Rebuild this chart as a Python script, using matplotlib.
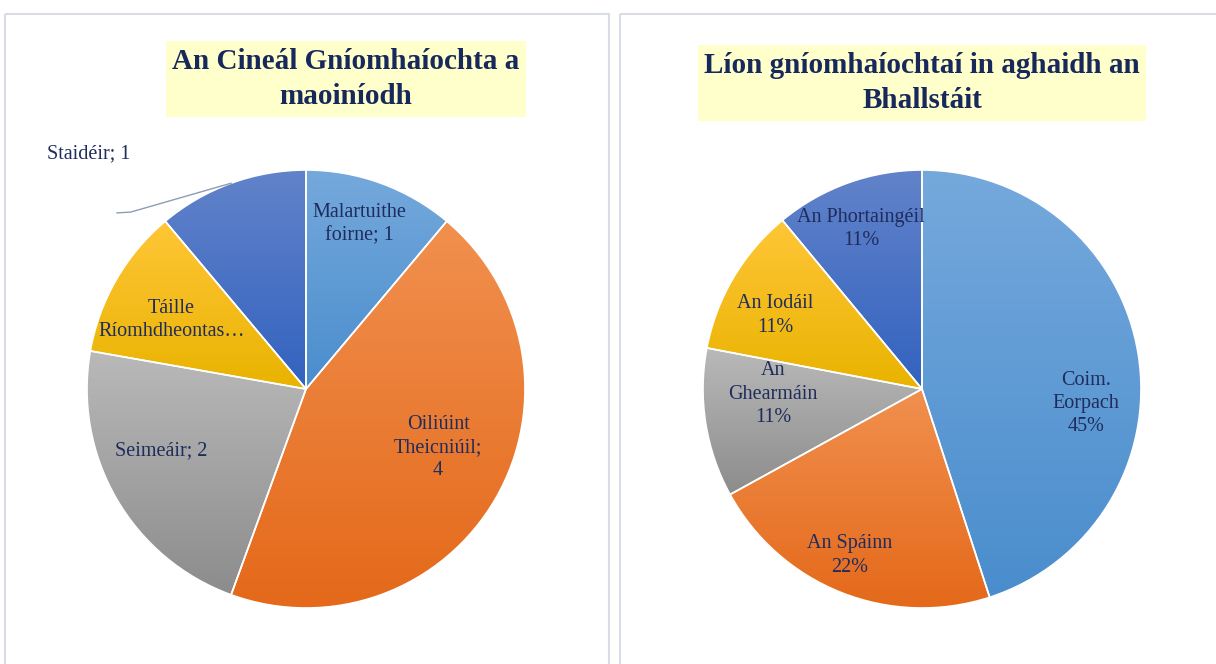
"""
Two Excel-style pie charts: type of funded activity, and number of activities per member state.
"""
import matplotlib
matplotlib.use("Agg")
import matplotlib.pyplot as plt
import numpy as np
from matplotlib.colors import LinearSegmentedColormap
from matplotlib.patches import Rectangle

plt.rcParams.update({
    "font.family": ["Liberation Serif", "DejaVu Serif"],
})

# ── data ────────────────────────────────────────────────────────────────────
left_title = "An Cineál Gníomhaíochta a\nmaoiníodh"
left_names = ["Malartuithe\nfoirne", "Oiliúint\nTheicniúil", "Seimeáir", "Táille\nRíomhdheontas…", "Staidéir"]
left_counts = [1, 4, 2, 1, 1]

right_title = "Líon gníomhaíochtaí in aghaidh an\nBhallstáit"
right_names = ["Coim.\nEorpach", "An Spáinn", "An\nGhearmáin", "An Iodáil", "An Phortaingéil"]
right_pct = [45, 22, 11, 11, 11]

# ── styling ────────────────────────────────────────────────────────────────
# (top colour, bottom colour) of each slice's vertical gradient
GRAD = {
    "lblue": ("#75a9dc", "#4a8dcd"),
    "orange": ("#f1904f", "#e4691a"),
    "gray": ("#b9b9b9", "#8c8c8c"),
    "yellow": ("#ffc637", "#e9b300"),
    "dblue": ("#6283ca", "#3262bf"),
}
SLICE_COLORS = ["lblue", "orange", "gray", "yellow", "dblue"]
TEXT = "#1f2c5c"
TITLE = "#17285a"
BORDER = "#d8dde5"
TITLE_BG = "#ffffcc"
LABEL_FS = 14.5

W, H = 1216, 664
fig = plt.figure(figsize=(W / 100, H / 100), dpi=100)
fig.patch.set_facecolor("white")

bg = fig.add_axes([0, 0, 1, 1], zorder=0)
bg.set_xlim(0, W)
bg.set_ylim(H, 0)
bg.axis("off")

# panel frames
for x0, x1 in [(5, 609), (620, 1230)]:
    bg.add_patch(Rectangle((x0, 14), x1 - x0, 680, fill=False, ec=BORDER, lw=1.5))

# titles
bg.text(346, 79, left_title, ha="center", va="center", fontsize=21, fontweight="bold",
        color=TITLE, linespacing=1.4,
        bbox=dict(boxstyle="square,pad=0.22", fc=TITLE_BG, ec="none"))
bg.text(922, 83, right_title, ha="center", va="center", fontsize=21, fontweight="bold",
        color=TITLE, linespacing=1.4,
        bbox=dict(boxstyle="square,pad=0.22", fc=TITLE_BG, ec="none"))

R_PX = 219
PAD = 1.06


def pie_axes(cx, cy):
    s = R_PX * PAD
    ax = fig.add_axes([(cx - s) / W, (H - cy - s) / H, 2 * s / W, 2 * s / H], zorder=1)
    ax.patch.set_alpha(0)
    return ax


def draw_pie(ax, values, labels, label_pos):
    wedges, _ = ax.pie(values, startangle=90, counterclock=False, radius=1,
                       wedgeprops=dict(lw=1.2, ec="white"))
    grad = np.linspace(0, 1, 256).reshape(-1, 1)
    for w, key in zip(wedges, SLICE_COLORS):
        top, bot = GRAD[key]
        cmap = LinearSegmentedColormap.from_list(key, [bot, top])
        ext = w.get_path().get_extents()
        im = ax.imshow(grad, extent=(ext.x0, ext.x1, ext.y0, ext.y1), origin="lower",
                       cmap=cmap, aspect="auto", zorder=1, interpolation="bilinear")
        im.set_clip_path(w)
        w.set_facecolor("none")
        w.set_zorder(2)
    for w, lab, pos in zip(wedges, labels, label_pos):
        if pos is None:
            continue
        dist, dang = pos
        ang = np.deg2rad((w.theta1 + w.theta2) / 2 + dang)
        ax.text(dist * np.cos(ang), dist * np.sin(ang), lab, ha="center", va="center",
                fontsize=LABEL_FS, color=TEXT, linespacing=1.3, zorder=3)
    ax.set_xlim(-PAD, PAD)
    ax.set_ylim(-PAD, PAD)
    ax.axis("off")
    return wedges


# left pie
ax1 = pie_axes(306, 389)
left_labels = [f"{n}; {v}" for n, v in zip(left_names, left_counts)]
left_labels[1] = "Oiliúint\nTheicniúil;\n4"
left_labels[3] = left_names[3]
lw = draw_pie(ax1, left_counts, left_labels,
              [(0.79, 2), (0.66, 6), (0.72, -7), (0.69, 3), None])
# outside label with leader line for the last slice
w = lw[4]
mid = np.deg2rad((w.theta1 + w.theta2) / 2)
ex, ey = np.cos(mid) * 1.0, np.sin(mid) * 1.0
ax1.plot([-0.863, -0.80, ex], [0.804, 0.808, ey], color="#8d9db5", lw=1, clip_on=False, zorder=3)
ax1.text(-1.183, 1.073, f"{left_names[4]}; {left_counts[4]}", ha="left", va="center",
         fontsize=LABEL_FS, color=TEXT, clip_on=False)

# right pie
ax2 = pie_axes(922, 389)
right_labels = [f"{n}\n{v}%" for n, v in zip(right_names, right_pct)]
draw_pie(ax2, right_pct, right_labels,
         [(0.75, -14), (0.83, -2), (0.68, -7), (0.75, 4), (0.78, 1)])

fig.savefig("out.png", dpi=100)
